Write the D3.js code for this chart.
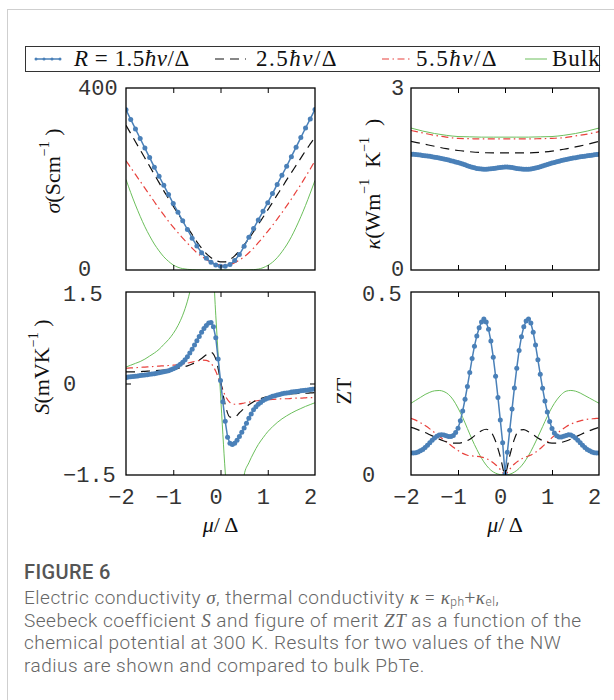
<!DOCTYPE html>
<html>
<head>
<meta charset="utf-8">
<script src="https://cdn.jsdelivr.net/npm/d3@7"></script>
<style>
  body { margin: 0; background: #fff; }
  svg { display: block; }
</style>
</head>
<body>
<svg id="chart" width="614" height="700"></svg>
<script>
// Chemical-potential grids (mu / Delta)
const muCoarse = d3.range(41).map(i => Math.round((-2 + i * 0.1) * 100) / 100);
const muFine = d3.range(81).map(i => Math.round((-2 + i * 0.05) * 100) / 100);
const muKappa = d3.range(17).map(i => -2 + i * 0.25);

// Electric conductivity sigma (S/cm), on muCoarse
const sigmaR15 = [352,331,310,289,268,247,226,206,186,166,146,127,108,89,70,53,38,26,17,11,8,
                  8,12,21,34,52,72,91,110,129,148,168,188,208,228,249,270,291,312,332,353];
const sigmaR25 = [318,300,282,264,246,228,210,192,174,157,140,124,108,93,78,62,48,36,27,21,18,
                  18,23,31,42,55,69,84,100,116,132,148,165,181,198,214,230,246,262,277,292];
const sigmaR55 = [240,225,210,195,180,165,150,135,121,107,94,82,70,59,48,38,30,23,17,13,11,
                  10,12,16,22,29,38,48,60,72,85,98,112,126,141,156,172,188,205,222,240];
const sigmaBulk = [199,170,143,118,95,75,57,42,29,19,11,6,3,1.5,0.6,0.2,0.1,0.05,0,0,0,
                   0,0,0,0.05,0.1,0.3,0.8,2,5,10,17,27,40,55,73,94,117,142,169,197];

// Thermal conductivity kappa (W/m/K)
const kappaR15 = [1.910,1.906,1.902,1.898,1.894,1.889,1.884,1.879,1.873,1.867,1.860,1.853,1.846,1.838,1.830,1.821,1.812,1.802,1.792,1.781,
                  1.770,1.758,1.746,1.733,1.720,1.707,1.695,1.684,1.675,1.668,1.663,1.661,1.661,1.663,1.667,1.672,1.678,1.684,1.690,1.695,
                  1.698,1.698,1.695,1.690,1.683,1.675,1.668,1.663,1.660,1.660,1.662,1.666,1.672,1.680,1.690,1.701,1.713,1.725,1.738,1.750,
                  1.762,1.773,1.784,1.794,1.804,1.813,1.822,1.830,1.838,1.845,1.852,1.859,1.865,1.871,1.877,1.883,1.888,1.893,1.898,1.903,1.908];
const kappaR25 = [2.12,2.08,2.04,2.00,1.97,1.95,1.935,1.93,1.93,1.93,1.93,1.94,1.96,1.99,2.03,2.07,2.12];
const kappaR55 = [2.30,2.26,2.22,2.19,2.17,2.165,2.16,2.16,2.16,2.16,2.16,2.165,2.17,2.18,2.21,2.24,2.28];
const kappaBulk = [2.34,2.29,2.25,2.22,2.20,2.195,2.19,2.19,2.19,2.19,2.19,2.195,2.20,2.22,2.25,2.29,2.34];

// Seebeck coefficient S (mV/K)
const seebeckR15 = [0.10,0.105,0.11,0.115,0.12,0.125,0.13,0.135,0.14,0.145,0.15,0.155,0.16,0.167,0.175,0.183,0.192,0.20,0.21,0.225,
                    0.24,0.26,0.285,0.315,0.35,0.39,0.44,0.50,0.56,0.63,0.70,0.77,0.84,0.90,0.95,0.99,1.00,0.93,0.75,0.40,
                    0.05,-0.30,-0.62,-0.88,-0.98,-1.00,-0.98,-0.93,-0.87,-0.80,-0.73,-0.65,-0.57,-0.50,-0.43,-0.38,-0.34,-0.31,-0.28,-0.26,
                    -0.24,-0.225,-0.21,-0.20,-0.19,-0.18,-0.17,-0.16,-0.155,-0.15,-0.14,-0.135,-0.13,-0.125,-0.12,-0.115,-0.11,-0.105,-0.10,-0.095,-0.09];
const seebeckR25 = [0.19,0.19,0.19,0.195,0.20,0.205,0.21,0.215,0.22,0.23,0.24,0.25,0.27,0.29,0.32,0.36,0.41,0.47,0.51,0.40,
                    0.05,-0.35,-0.55,-0.55,-0.48,-0.41,-0.35,-0.30,-0.26,-0.235,-0.215,-0.20,-0.19,-0.18,-0.175,-0.17,-0.165,-0.16,-0.16,-0.155,-0.15];
const seebeckR55 = [0.25,0.255,0.26,0.265,0.27,0.275,0.28,0.285,0.29,0.295,0.30,0.31,0.32,0.335,0.35,0.37,0.385,0.38,0.33,0.20,
                    0.0,-0.20,-0.31,-0.34,-0.335,-0.32,-0.305,-0.29,-0.28,-0.27,-0.265,-0.26,-0.255,-0.25,-0.25,-0.245,-0.24,-0.24,-0.235,-0.23,-0.23];
const seebeckBulk = [0.27,0.30,0.33,0.36,0.40,0.45,0.50,0.56,0.64,0.72,0.82,0.95,1.12,1.35,1.66,2.0,2.35,2.6,2.4,1.12,
                     -0.17,-1.45,-2.4,-2.8,-2.4,-1.5,-1.30,-1.14,-1.00,-0.89,-0.79,-0.71,-0.64,-0.58,-0.53,-0.485,-0.445,-0.41,-0.375,-0.345,-0.315];

// Figure of merit ZT
const ztR15 = [0.060,0.060,0.061,0.063,0.066,0.070,0.075,0.081,0.088,0.095,0.101,0.106,0.109,0.110,0.109,0.107,0.105,0.105,0.108,0.116,
               0.128,0.148,0.175,0.207,0.242,0.280,0.318,0.352,0.380,0.402,0.418,0.426,0.418,0.398,0.366,0.322,0.270,0.212,0.150,0.088,
               0.002,0.062,0.122,0.180,0.238,0.292,0.340,0.378,0.405,0.421,0.426,0.415,0.390,0.355,0.315,0.275,0.237,0.202,0.172,0.146,
               0.127,0.115,0.107,0.104,0.104,0.106,0.108,0.110,0.109,0.106,0.101,0.095,0.088,0.081,0.075,0.070,0.066,0.063,0.061,0.060,0.060];
const ztR25 = [0.130,0.126,0.121,0.116,0.110,0.104,0.098,0.093,0.089,0.087,0.087,0.089,0.094,0.102,0.112,0.121,0.125,0.118,0.092,0.050,
               0.003,0.052,0.098,0.122,0.124,0.118,0.110,0.101,0.094,0.089,0.087,0.087,0.089,0.093,0.098,0.104,0.110,0.116,0.121,0.126,0.130];
const ztR55 = [0.155,0.150,0.143,0.135,0.126,0.116,0.106,0.096,0.086,0.076,0.067,0.059,0.054,0.052,0.051,0.049,0.045,0.038,0.028,0.015,
               0.002,0.016,0.030,0.040,0.047,0.052,0.058,0.067,0.078,0.090,0.102,0.113,0.123,0.132,0.139,0.144,0.148,0.151,0.153,0.154,0.155];
const ztBulk = [0.196,0.204,0.212,0.220,0.226,0.230,0.231,0.228,0.220,0.205,0.183,0.157,0.127,0.097,0.070,0.046,0.027,0.013,0.005,0.001,
                0.0,0.002,0.008,0.018,0.033,0.053,0.077,0.104,0.132,0.160,0.185,0.205,0.220,0.229,0.231,0.229,0.224,0.217,0.210,0.203,0.196];

// Axis ticks
const muTicks = [-2, -1, 0, 1, 2];
const muInnerTicks = [-1, 0, 1];
const sigmaTicks = [0, 400];
const kappaTicks = [0, 3];
const seebeckTicks = [-1.5, 0, 1.5];
const ztTicks = [0, 0.5];

// Legend entries
const legendLabels = ["R = 1.5\u0127v/\u0394", "2.5\u0127v/\u0394", "5.5\u0127v/\u0394", "Bulk"];

// Line styles for each nanowire radius / bulk
const style = {
  r15:  { color: "#4a80b8", width: 1.5, dash: null, markers: true },
  r25:  { color: "#111111", width: 1.2, dash: "9,6", markers: false },
  r55:  { color: "#e8413c", width: 1.2, dash: "7,3.5,1.5,3.5", markers: false },
  bulk: { color: "#6cbf5c", width: 1.0, dash: null, markers: false }
};

const svg = d3.select("#chart");
const monoFont = "'Liberation Mono', 'DejaVu Sans Mono', monospace";
const serifFont = "'Liberation Serif', 'DejaVu Serif', serif";
const captionFont = "Roboto, 'Open Sans', sans-serif";

// Page frame lines
svg.append("line").attr("x1", 7).attr("x2", 614).attr("y1", 9.5).attr("y2", 9.5)
  .attr("stroke", "#cfcfcf").attr("stroke-width", 1);
svg.append("line").attr("x1", 7.5).attr("x2", 7.5).attr("y1", 9).attr("y2", 700)
  .attr("stroke", "#cfcfcf").attr("stroke-width", 1);

const fmt = d => (d < 0 ? "\u2212" + Math.abs(d) : String(d));

// tickNudge: small vertical offsets keeping stacked labels of adjacent panels apart
const panels = [
  { id: "sigma", box: [126, 88, 315, 270], domain: [0, 400], ticks: sigmaTicks, tickX: 78,
    tickNudge: { 0: -1.5 },
    series: [
      { key: "bulk", mu: muCoarse, v: sigmaBulk },
      { key: "r55", mu: muCoarse, v: sigmaR55 },
      { key: "r25", mu: muCoarse, v: sigmaR25 },
      { key: "r15", mu: muCoarse, v: sigmaR15 }],
    yTickMarks: [], xLabels: false,
    label: { x: 52, y: 171, parts: [["\u03c3", "italic"], ["(Scm", "normal"], ["\u22121", "sup"], [" )", "normal"]] } },
  { id: "kappa", box: [411, 88, 599, 270], domain: [0, 3], ticks: kappaTicks, tickX: 391,
    tickNudge: { 0: -1.5 },
    series: [
      { key: "bulk", mu: muKappa, v: kappaBulk },
      { key: "r55", mu: muKappa, v: kappaR55 },
      { key: "r25", mu: muKappa, v: kappaR25 },
      { key: "r15", mu: muFine, v: kappaR15 }],
    yTickMarks: [], xLabels: false,
    label: { x: 372, y: 184, parts: [["\u03ba", "italic"], ["(Wm", "normal"], ["\u22121", "sup"], ["\u2002K", "normal"], ["\u22121", "sup"], ["\u2002)", "normal"]] } },
  { id: "seebeck", box: [126, 292, 315, 475], domain: [-1.5, 1.5], ticks: seebeckTicks, tickX: 63,
    tickNudge: { 1.5: 1.5 },
    series: [
      { key: "bulk", mu: muCoarse, v: seebeckBulk },
      { key: "r55", mu: muCoarse, v: seebeckR55 },
      { key: "r25", mu: muCoarse, v: seebeckR25 },
      { key: "r15", mu: muFine, v: seebeckR15 }],
    yTickMarks: [0], xLabels: true,
    label: { x: 41, y: 367, parts: [["S", "italic"], ["(mVK", "normal"], ["\u22121", "sup"], [" )", "normal"]] } },
  { id: "zt", box: [411, 292, 599, 475], domain: [0, 0.5], ticks: ztTicks, tickX: 362,
    tickNudge: { 0.5: 1.5 },
    series: [
      { key: "bulk", mu: muCoarse, v: ztBulk },
      { key: "r55", mu: muCoarse, v: ztR55 },
      { key: "r25", mu: muCoarse, v: ztR25 },
      { key: "r15", mu: muFine, v: ztR15 }],
    yTickMarks: [], xLabels: true,
    label: { x: 343, y: 391, parts: [["ZT", "normal"]] } }
];

panels.forEach(p => {
  const [x0, y0, x1, y1] = p.box;
  const x = d3.scaleLinear().domain([-2, 2]).range([x0, x1]);
  const y = d3.scaleLinear().domain(p.domain).range([y1, y0]);
  const g = svg.append("g");

  g.append("clipPath").attr("id", "clip-" + p.id)
    .append("rect").attr("x", x0).attr("y", y0).attr("width", x1 - x0).attr("height", y1 - y0);
  const plot = g.append("g").attr("clip-path", `url(#clip-${p.id})`);

  p.series.forEach(s => {
    const st = style[s.key];
    const pts = s.mu.map((m, i) => [m, s.v[i]]);
    const line = d3.line().x(d => x(d[0])).y(d => y(d[1]))
      .curve(st.markers ? d3.curveLinear : d3.curveMonotoneX);
    plot.append("path").datum(pts).attr("d", line)
      .attr("fill", "none").attr("stroke", st.color).attr("stroke-width", st.width)
      .attr("stroke-dasharray", st.dash);
    if (st.markers) {
      plot.selectAll(null).data(pts).join("circle")
        .attr("cx", d => x(d[0])).attr("cy", d => y(d[1])).attr("r", 2.5)
        .attr("fill", st.color);
    }
  });

  // inward ticks on top and bottom edges
  const tickStyle = sel => {
    sel.select(".domain").remove();
    sel.selectAll(".tick line").attr("stroke", "#000").attr("stroke-width", 1);
  };
  g.append("g").attr("transform", `translate(0,${y0})`)
    .call(d3.axisBottom(x).tickValues(muInnerTicks).tickSize(5).tickFormat(""))
    .call(tickStyle);
  g.append("g").attr("transform", `translate(0,${y1})`)
    .call(d3.axisTop(x).tickValues(muInnerTicks).tickSize(5).tickFormat(""))
    .call(tickStyle);
  if (p.yTickMarks.length) {
    g.append("g").attr("transform", `translate(${x0},0)`)
      .call(d3.axisRight(y).tickValues(p.yTickMarks).tickSize(5).tickFormat(""))
      .call(tickStyle);
    g.append("g").attr("transform", `translate(${x1},0)`)
      .call(d3.axisLeft(y).tickValues(p.yTickMarks).tickSize(5).tickFormat(""))
      .call(tickStyle);
  }

  g.append("rect").attr("x", x0).attr("y", y0).attr("width", x1 - x0).attr("height", y1 - y0)
    .attr("fill", "none").attr("stroke", "#000").attr("stroke-width", 1.3);

  // y tick labels (left-aligned)
  g.selectAll(null).data(p.ticks).join("text")
    .attr("x", p.tickX).attr("y", d => y(d) + 7 + (p.tickNudge[d] || 0))
    .attr("font-family", monoFont).attr("font-size", 22).attr("fill", "#333")
    .text(fmt);

  // x tick labels
  if (p.xLabels) {
    const ax = g.append("g").attr("transform", `translate(0,${y1})`)
      .call(d3.axisBottom(x).tickValues(muTicks).tickSize(0).tickFormat(fmt));
    ax.select(".domain").remove();
    ax.selectAll("text").attr("y", 29).attr("dy", null).attr("dx", -5)
      .attr("font-family", monoFont).attr("font-size", 22).attr("fill", "#333");
    g.append("text").attr("x", (x0 + x1) / 2).attr("y", 532)
      .attr("text-anchor", "middle").attr("font-family", serifFont).attr("font-size", 22)
      .attr("fill", "#111")
      .html('<tspan font-style="italic">\u03bc</tspan>/\u2009\u0394');
  }

  // rotated y-axis title
  const t = g.append("text")
    .attr("transform", `translate(${p.label.x},${p.label.y}) rotate(-90)`)
    .attr("text-anchor", "middle").attr("dominant-baseline", "central")
    .attr("font-family", serifFont).attr("font-size", 22).attr("fill", "#111");
  let shifted = false;
  p.label.parts.forEach(([txt, kind]) => {
    const ts = t.append("tspan").text(txt);
    if (kind === "italic") ts.attr("font-style", "italic");
    if (kind === "sup") { ts.attr("font-size", 14).attr("dy", -8); shifted = true; }
    else if (shifted) { ts.attr("dy", 8); shifted = false; }
  });
});

// Legend
const lg = svg.append("g");
lg.append("rect").attr("x", 25.5).attr("y", 46.5).attr("width", 574).attr("height", 25)
  .attr("fill", "#fff").attr("stroke", "#333").attr("stroke-width", 1);
const legendItems = [
  { key: "r15", x1: 36, x2: 60, tx: 74, spacing: 0.5 },
  { key: "r25", x1: 215, x2: 246, tx: 256, spacing: 1.5 },
  { key: "r55", x1: 382, x2: 413, tx: 416, spacing: 1.5 },
  { key: "bulk", x1: 525, x2: 547, tx: 552, spacing: 1.0 }
];
legendItems.forEach((it, i) => {
  const st = style[it.key];
  const ly = 59;
  lg.append("line").attr("x1", it.x1).attr("x2", it.x2).attr("y1", ly).attr("y2", ly)
    .attr("stroke", st.color).attr("stroke-width", st.width)
    .attr("stroke-dasharray", st.dash);
  if (st.markers) {
    lg.selectAll(null).data(d3.range(4)).join("circle")
      .attr("cx", k => it.x1 + k * (it.x2 - it.x1) / 3).attr("cy", ly).attr("r", 1.5)
      .attr("fill", st.color);
  }
  const txt = lg.append("text").attr("x", it.tx).attr("y", ly + 7)
    .attr("font-family", serifFont).attr("font-size", 23).attr("fill", "#111")
    .attr("letter-spacing", it.spacing);
  const label = legendLabels[i];
  if (i < 3) {
    const m = label.match(/^(R = )?([\d.]+)(\u0127)(v)(\/\u0394)$/);
    if (m[1]) { txt.append("tspan").attr("font-style", "italic").text("R"); txt.append("tspan").text(" = "); }
    txt.append("tspan").text(m[2]);
    txt.append("tspan").attr("font-style", "italic").text(m[3] + m[4]);
    txt.append("tspan").text(m[5]);
  } else {
    txt.text(label);
  }
});

// Caption
const cap = svg.append("g").attr("font-family", captionFont);
cap.append("text").attr("x", 24).attr("y", 579).attr("font-size", 20)
  .attr("font-weight", 500).attr("letter-spacing", 0.4).attr("fill", "#555").text("FIGURE 6");
const capLines = [
  [["Electric conductivity ", 0], ["\u03c3", 1], [", thermal conductivity ", 0], ["\u03ba", 1], [" = ", 0], ["\u03ba", 1], ["ph", 2], ["+", 0], ["\u03ba", 1], ["el", 2], [",", 0]],
  [["Seebeck coefficient ", 0], ["S", 1], [" and figure of merit ", 0], ["ZT", 1], [" as a function of the", 0]],
  [["chemical potential at 300 K. Results for two values of the NW", 0]],
  [["radius are shown and compared to bulk PbTe.", 0]]
];
capLines.forEach((parts, i) => {
  const t = cap.append("text").attr("x", 24).attr("y", 604 + i * 22.5)
    .attr("font-size", 19).attr("font-weight", 300).attr("letter-spacing", 0.5).attr("fill", "#666");
  let sub = false;
  parts.forEach(([s, k]) => {
    const ts = t.append("tspan").text(s);
    if (k === 1) ts.attr("font-family", serifFont).attr("font-style", "italic");
    if (k === 2) { ts.attr("font-size", 12).attr("dy", sub ? 0 : 2); sub = true; }
    else if (sub) { ts.attr("dy", -2); sub = false; }
  });
});
</script>
</body>
</html>
